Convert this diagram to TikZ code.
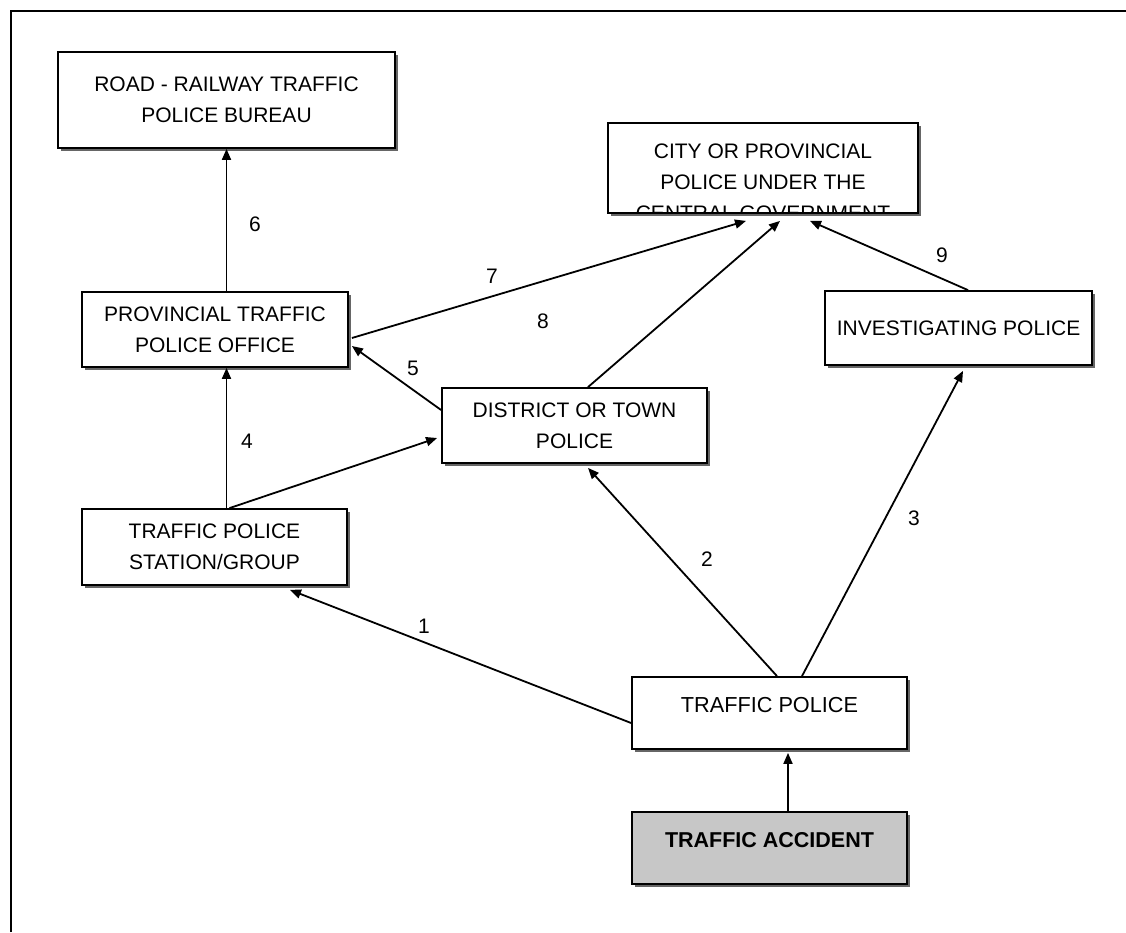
\documentclass[tikz,border=0pt]{standalone}
\usepackage{fontspec}
\setmainfont{Liberation Sans}
\usetikzlibrary{arrows.meta,shadows,calc}
\begin{document}
\begin{tikzpicture}[x=1pt,y=-1pt,
  box/.style={draw,line width=1.8pt,fill=white,rectangle,inner sep=0pt,align=center,
    font=\fontsize{21}{31}\selectfont,
    drop shadow={shadow xshift=2.5pt,shadow yshift=-2.5pt,fill=black!60,opacity=1}},
  conn/.style={line width=1.8pt,-{Triangle[length=11pt,width=9pt]}},
  lbl/.style={font=\fontsize{21}{24}\selectfont,inner sep=0pt}]
\useasboundingbox (0,0) rectangle (1126,932);
% outer frame (left and top edges visible)
\draw[line width=2pt] (11,932) -- (11,11) -- (1126,11);

% boxes
\node[box,minimum width=337pt,minimum height=96pt] (road) at (226.5,100) {ROAD - RAILWAY TRAFFIC\\POLICE BUREAU};
\node[box,minimum width=310pt,minimum height=90pt] (city) at (763,168) {};
\begin{scope}
  \clip ($(city.north west)+(1,1)$) rectangle ($(city.south east)+(-1,-1)$);
  \node[align=center,inner sep=0pt,anchor=north,font=\fontsize{21}{31}\selectfont] (citytext) at (763,144)
    {CITY OR PROVINCIAL\\POLICE UNDER THE\\CENTRAL GOVERNMENT};
\end{scope}

\node[box,minimum width=266pt,minimum height=75pt] (prov) at (215,329.5) {PROVINCIAL TRAFFIC\\POLICE OFFICE};
\node[box,minimum width=265pt,minimum height=76pt] (station) at (214.5,547) {TRAFFIC POLICE\\STATION/GROUP};
\node[box,minimum width=265pt,minimum height=75pt] (district) at (574.5,425.5) {DISTRICT OR TOWN\\POLICE};
\node[box,minimum width=267pt,minimum height=74pt] (invest) at (958.5,328) {INVESTIGATING POLICE};
\node[box,minimum width=275pt,minimum height=72pt] (tp) at (769.5,713) {};
\node[inner sep=0pt,font=\fontsize{21.7}{25}\selectfont] (tptext) at (769.5,705) {TRAFFIC POLICE};
\node[box,fill=black!22,minimum width=275pt,minimum height=72pt] (accident) at (769.5,848) {};
\node[inner sep=0pt,font=\bfseries\fontsize{21.5}{25}\selectfont] (acctext) at (769.5,840) {TRAFFIC ACCIDENT};

% connectors
\draw[conn] (prov.north -| road.south) -- (road.south);
\draw[conn] (station.north -| road.south) -- (prov.south -| road.south);
\draw[conn] ($(station.north)+(15,0)$) -- ($(district.west)+(-4,12.5)$);
\draw[conn] ($(district.west)+(0,-15.5)$) -- ($(prov.east)+(3,16.5)$);
\draw[conn] ($(prov.east)+(3,8.5)$) -- ($(city.south)+(-17,7)$);
\draw[conn] ($(district.north)+(13.5,0)$) -- ($(city.south)+(17,7)$);
\draw[conn] ($(invest.north)+(9.5,0)$) -- ($(city.south)+(47,7)$);
\draw[conn] ($(tp.north)+(7.5,0)$) -- ($(district.south)+(13.5,4)$);
\draw[conn] ($(tp.north)+(32.5,0)$) -- ($(invest.south)+(4.5,5)$);
\draw[conn] ($(tp.west)+(0,10)$) -- ($(station.south)+(75.5,4)$);
\draw[conn] ($(accident.north)+(18.5,0)$) -- ($(tp.south)+(18.5,3)$);

% labels
\node[lbl] (l1) at (424,626) {1};
\node[lbl] (l2) at (707,559) {2};
\node[lbl] (l3) at (914,518) {3};
\node[lbl] (l4) at (247,441) {4};
\node[lbl] (l5) at (413,368) {5};
\node[lbl] (l6) at (255,224) {6};
\node[lbl] (l7) at (492,276) {7};
\node[lbl] (l8) at (543,321) {8};
\node[lbl] (l9) at (942,255) {9};
\end{tikzpicture}
\end{document}
